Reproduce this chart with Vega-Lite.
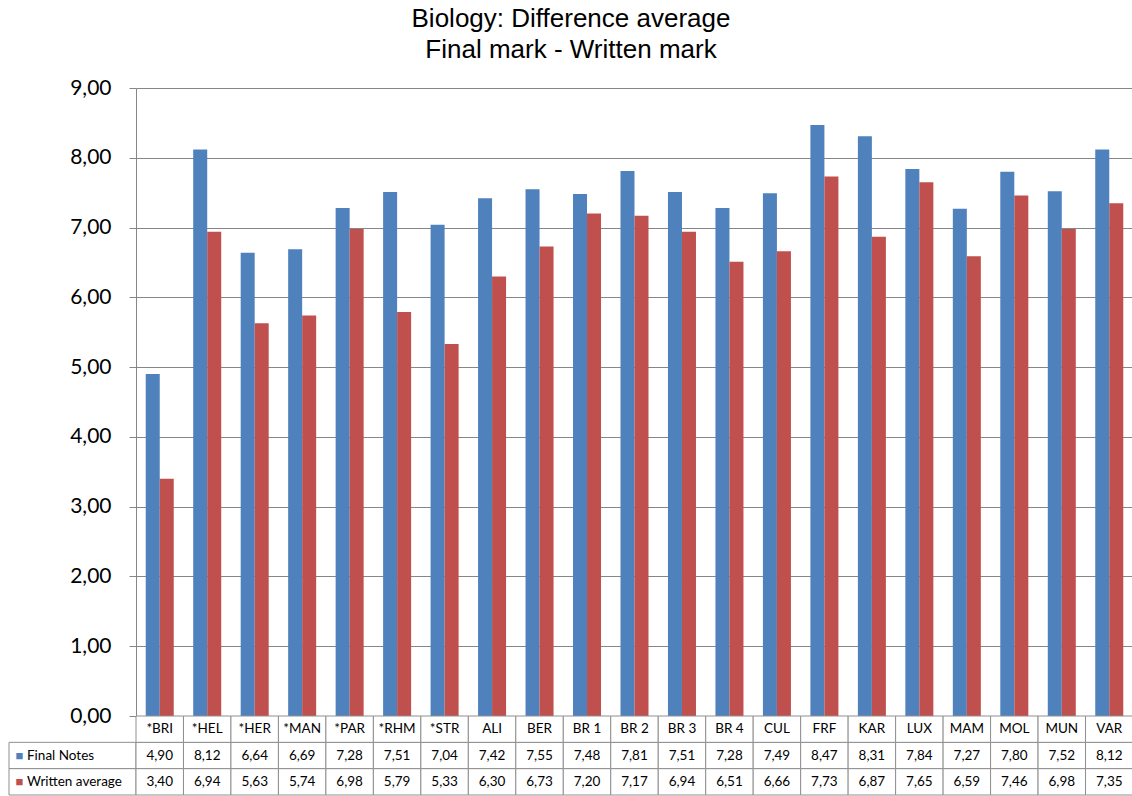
{
  "$schema": "https://vega.github.io/schema/vega-lite/v6.json",
  "padding": {"left": 8, "top": 6, "right": 0, "bottom": 1},
  "title": {
    "text": ["Biology: Difference average", "Final mark - Written mark"],
    "font": "Liberation Sans",
    "fontSize": 26,
    "fontWeight": "normal",
    "color": "black",
    "anchor": "middle",
    "lineHeight": 31,
    "offset": 14
  },
  "config": {
    "locale": {"number": {"decimal": ",", "thousands": ".", "grouping": [3], "currency": ["", " €"]}},
    "view": {"stroke": null},
    "font": "Lato"
  },
  "datasets": {
    "marks": [
      {"cat": "*BRI", "series": "Final Notes", "value": 4.90},
      {"cat": "*HEL", "series": "Final Notes", "value": 8.12},
      {"cat": "*HER", "series": "Final Notes", "value": 6.64},
      {"cat": "*MAN", "series": "Final Notes", "value": 6.69},
      {"cat": "*PAR", "series": "Final Notes", "value": 7.28},
      {"cat": "*RHM", "series": "Final Notes", "value": 7.51},
      {"cat": "*STR", "series": "Final Notes", "value": 7.04},
      {"cat": "ALI", "series": "Final Notes", "value": 7.42},
      {"cat": "BER", "series": "Final Notes", "value": 7.55},
      {"cat": "BR 1", "series": "Final Notes", "value": 7.48},
      {"cat": "BR 2", "series": "Final Notes", "value": 7.81},
      {"cat": "BR 3", "series": "Final Notes", "value": 7.51},
      {"cat": "BR 4", "series": "Final Notes", "value": 7.28},
      {"cat": "CUL", "series": "Final Notes", "value": 7.49},
      {"cat": "FRF", "series": "Final Notes", "value": 8.47},
      {"cat": "KAR", "series": "Final Notes", "value": 8.31},
      {"cat": "LUX", "series": "Final Notes", "value": 7.84},
      {"cat": "MAM", "series": "Final Notes", "value": 7.27},
      {"cat": "MOL", "series": "Final Notes", "value": 7.80},
      {"cat": "MUN", "series": "Final Notes", "value": 7.52},
      {"cat": "VAR", "series": "Final Notes", "value": 8.12},
      {"cat": "*BRI", "series": "Written average", "value": 3.40},
      {"cat": "*HEL", "series": "Written average", "value": 6.94},
      {"cat": "*HER", "series": "Written average", "value": 5.63},
      {"cat": "*MAN", "series": "Written average", "value": 5.74},
      {"cat": "*PAR", "series": "Written average", "value": 6.98},
      {"cat": "*RHM", "series": "Written average", "value": 5.79},
      {"cat": "*STR", "series": "Written average", "value": 5.33},
      {"cat": "ALI", "series": "Written average", "value": 6.30},
      {"cat": "BER", "series": "Written average", "value": 6.73},
      {"cat": "BR 1", "series": "Written average", "value": 7.20},
      {"cat": "BR 2", "series": "Written average", "value": 7.17},
      {"cat": "BR 3", "series": "Written average", "value": 6.94},
      {"cat": "BR 4", "series": "Written average", "value": 6.51},
      {"cat": "CUL", "series": "Written average", "value": 6.66},
      {"cat": "FRF", "series": "Written average", "value": 7.73},
      {"cat": "KAR", "series": "Written average", "value": 6.87},
      {"cat": "LUX", "series": "Written average", "value": 7.65},
      {"cat": "MAM", "series": "Written average", "value": 6.59},
      {"cat": "MOL", "series": "Written average", "value": 7.46},
      {"cat": "MUN", "series": "Written average", "value": 6.98},
      {"cat": "VAR", "series": "Written average", "value": 7.35}
    ],
    "legend": [
      {"series": "Final Notes"},
      {"series": "Written average"}
    ]
  },
  "columns": 2,
  "spacing": 0,
  "bounds": "flush",
  "concat": [
    {
      "width": 127,
      "height": 628,
      "data": {"name": "legend"},
      "mark": {"type": "point", "opacity": 0},
      "encoding": {}
    },
    {
      "width": 997,
      "height": 628,
      "data": {"name": "marks"},
      "mark": {"type": "bar"},
      "encoding": {
        "x": {
          "field": "cat", "type": "nominal", "sort": null,
          "scale": {"paddingInner": 0.41, "paddingOuter": 0.205},
          "axis": {"labels": false, "ticks": false, "title": null, "domainColor": "#868686", "domainWidth": 1}
        },
        "xOffset": {"field": "series", "type": "nominal", "sort": ["Final Notes", "Written average"], "scale": {"paddingInner": 0, "paddingOuter": 0}},
        "y": {
          "field": "value", "type": "quantitative",
          "scale": {"domain": [0, 9], "nice": false},
          "axis": {
            "values": [0, 1, 2, 3, 4, 5, 6, 7, 8, 9],
            "format": ".2f",
            "title": null,
            "grid": true,
            "gridColor": "#868686",
            "gridOpacity": 1,
            "tickColor": "#868686",
            "domainColor": "#868686",
            "tickSize": 7,
            "labelFontSize": 21,
            "labelPadding": 18,
            "labelColor": "black",
            "labelFont": "Lato"
          }
        },
        "color": {
          "field": "series", "type": "nominal",
          "scale": {"domain": ["Final Notes", "Written average"], "range": ["#4F81BD", "#C0504D"]},
          "legend": null
        }
      }
    },
    {
      "width": 127,
      "height": 79,
      "data": {"name": "legend"},
      "encoding": {
        "y": {
          "field": "series", "type": "nominal",
          "scale": {"domain": ["Category", "Final Notes", "Written average"], "paddingInner": 0, "paddingOuter": 0},
          "axis": null
        }
      },
      "layer": [
        {"mark": {"type": "rect", "fill": "white", "stroke": "#8f8f8f", "strokeWidth": 1}},
        {
          "mark": {"type": "text", "text": "■", "fontSize": 13, "dx": -53, "align": "center"},
          "encoding": {
            "color": {"field": "series", "type": "nominal", "scale": {"domain": ["Final Notes", "Written average"], "range": ["#4F81BD", "#C0504D"]}, "legend": null}
          }
        },
        {
          "mark": {"type": "text", "fontSize": 13.5, "dx": -45.5, "align": "left", "color": "black"},
          "encoding": {"text": {"field": "series"}}
        }
      ]
    },
    {
      "width": 997,
      "height": 79,
      "data": {"name": "marks"},
      "encoding": {
        "x": {"field": "cat", "type": "nominal", "sort": null, "scale": {"paddingInner": 0, "paddingOuter": 0}, "axis": null}
      },
      "layer": [
        {
          "mark": {"type": "rect", "fill": "white", "stroke": "#8f8f8f", "strokeWidth": 1},
          "encoding": {"y": {"field": "series", "type": "nominal", "scale": {"domain": ["Category", "Final Notes", "Written average"], "paddingInner": 0, "paddingOuter": 0}, "axis": null}}
        },
        {
          "transform": [{"filter": "datum.series === 'Final Notes'"}],
          "mark": {"type": "rect", "fill": "white", "stroke": "#8f8f8f", "strokeWidth": 1},
          "encoding": {"y": {"datum": "Category", "type": "nominal"}}
        },
        {
          "mark": {"type": "text", "fontSize": 13.5, "color": "black"},
          "encoding": {
            "y": {"field": "series", "type": "nominal"},
            "text": {"field": "value", "type": "quantitative", "format": ".2f"}
          }
        },
        {
          "transform": [{"filter": "datum.series === 'Final Notes'"}],
          "mark": {"type": "text", "fontSize": 13.5, "color": "black"},
          "encoding": {
            "y": {"datum": "Category", "type": "nominal"},
            "text": {"field": "cat", "type": "nominal"}
          }
        }
      ]
    }
  ]
}
